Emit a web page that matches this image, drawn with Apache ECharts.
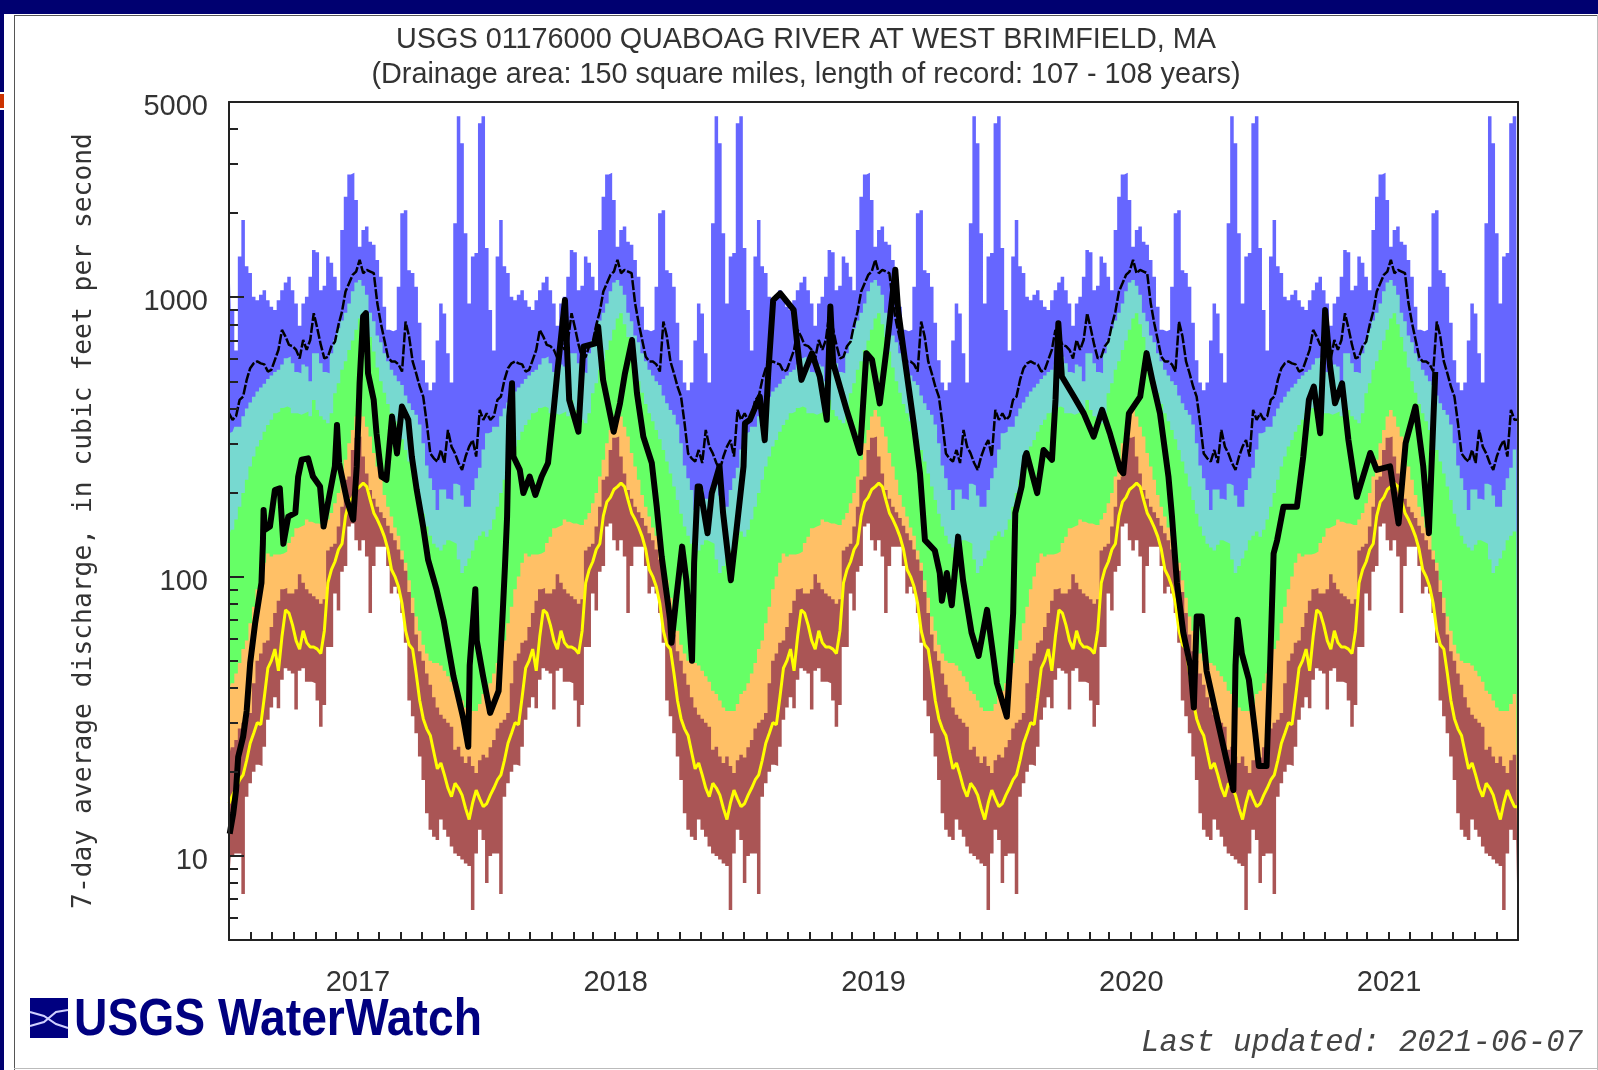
<!DOCTYPE html>
<html><head><meta charset="utf-8">
<style>html,body{margin:0;padding:0;background:#fff}#c{width:1598px;height:1070px}</style>
<script src="https://cdn.jsdelivr.net/npm/echarts@6/dist/echarts.min.js"></script>
</head><body><div id="c"></div>
<script>
// 73 five-day steps through one water year (starts 1 October); the statistics repeat each year.
const maxFlow = [1500,900,645,1400,1890,1290,1220,1005,975,1020,1060,975,925,900,975,1060,1130,1185,1060,950,
 790,950,1005,1185,1475,1450,1060,1100,1400,1330,1185,1060,1740,2290,2750,2790,2230,1515,1740,1790,
 1580,1540,1360,1185,925,765,755,765,1090,2000,2050,1250,1220,1090,810,595,495,465,495,700,
 950,875,630,495,1840,4450,3560,1695,950,1400,1440,4200,4450];
const p90Flow = [326,330,344,344,375,400,420,440,460,475,490,510,525,540,550,575,605,613,580,540,
 534,575,565,500,630,630,580,540,534,630,703,775,825,880,950,1050,1130,1153,1100,1020,
 880,820,730,690,630,590,550,525,500,485,445,417,395,380,350,300,250,225,204,173,
 205,205,190,188,215,212,195,178,178,204,225,245,285];
const p75Flow = [139,147,160,178,199,222,248,269,292,308,330,349,364,384,390,401,406,401,384,384,
 380,384,390,375,429,395,375,364,354,384,453,492,550,590,648,700,765,840,877,800,
 720,640,560,500,455,415,384,360,335,310,284,258,234,210,188,168,151,140,131,127,
 124,130,135,133,131,115,103,109,116,124,135,140,145];
const p25Flow = [39,41.5,45,49,55,59,68,78,90,100,112,121,118,120,120,121,123,132,139,149,
 151,153,160,157,155,155,153,153,160,169,183,199,228,262,300,335,374,395,374,344,
 317,277,248,222,196,178,164,150,140,124,112,97,84,72,64,57,53,50,49,49,
 48,46,44,42,39,38,36,34,33,33,33,35,38];
const p10Flow = [22.5,24.5,26,28.6,30,30.7,32.5,41.5,50,53,58,59,66,74,82,90,91,87,87,90,
 102,95,90,87,85,83,80,83,124,128,131,151,178,222,228,284,314,317,269,234,
 204,190,178,170,162,152,143,135,125,115,105,88,74,62,54,50,45,41,37,34,
 32,31,30,29,24,24.6,22.7,21.5,22.7,21,19.8,22,23];
const minFlow = [8,10,10.2,10.2,7.3,16.3,18.2,20,21.2,21,24.6,30.7,34,37,33.8,42.7,47,46,45,33.4,
 46,47,42,42,41.5,36,29,34.7,56,56,87,75.6,104,109,151,155,135,124,135,118,
 74,109,128,128,128,109,87,92,87,74,58,36,31.6,27.5,22.7,18.7,14.2,12.4,11.7,11.4,
 13.5,12.4,11.7,10.8,10.2,10,9.7,9.4,9.2,6.4,10.2,12.4,11.4];
const yellowFlow = [15.4,16.5,17.5,18.7,19.5,22,25.3,27.5,30,29.5,37,47,50,55,46,61,76,74,67,59,
 55,64,58,56,56,55,53,64,95,106,113,125,131,165,185,192,205,210,216,210,
 188,169,160,150,139,125,106,100,92,80,64,57,55,45,36,31,28.5,27,23.5,20.5,
 21.5,19.5,17.5,16.3,18.2,17.5,16.5,14.8,13.5,15.5,17.2,16,15];
const meanFlow = [384,364,375,429,441,506,557,580,589,580,575,542,550,597,648,764,723,675,668,648,
 604,703,648,703,877,774,675,604,612,668,693,796,889,1048,1122,1202,1236,1361,1219,1253,
 1236,1219,951,807,703,612,589,589,575,542,818,723,589,534,479,441,354,276,265,258,
 284,255,335,292,276,255,241,269,292,308,269,395,364];
// Observed 7-day flow: [days since 2016-10-01, cfs]
const observedFlow = [[1,12],[6,14.2],[10,17.2],[13,22.6],[20,26.7],[25,33],[30,49],[37,68],[46,95],[48,131],
 [49,173],[51,147],[58,151],[65,204],[72,207],[77,131],[84,164],[94,169],[98,228],[103,262],
 [112,265],[119,228],[129,210],[134,151],[141,188],[150,248],[153,349],[156,255],[167,188],[176,160],
 [181,248],[185,492],[190,853],[194,877],[197,534],[205,429],[209,326],[216,228],[223,222],[231,374],
 [238,276],[245,406],[254,364],[259,269],[266,204],[275,151],[282,115],[294,90],[304,70],[318,44],
 [332,31],[339,24.6],[341,48],[349,90],[351,59],[360,44],[370,32.5],[382,39],[388,76],[391,109],
 [394,164],[397,374],[401,492],[403,269],[412,241],[417,199],[426,228],[434,196],[443,228],[452,255],
 [460,395],[465,534],[476,977],[482,429],[495,330],[502,665],[519,684],[523,785],[530,506],[545,330],
 [554,417],[561,534],[571,703],[578,453],[587,317],[599,255],[606,178],[613,118],[625,70],[627,58],
 [634,85],[642,128],[648,97],[656,50],[659,112],[664,210],[667,210],[678,143],[684,199],[695,248],
 [700,169],[711,97],[719,147],[729,248],[731,354],[738,364],[752,441],[759,308],[764,534],[771,977],
 [781,1033],[800,901],[807,613],[811,506],[826,630],[837,520],[847,364],[852,926],[856,580],[875,395],
 [894,277],[903,630],[911,597],[922,417],[932,665],[944,1255],[948,901],[955,665],[970,354],[979,234],
 [986,135],[1000,124],[1007,103],[1010,82],[1017,103],[1024,79],[1033,139],[1040,97],[1052,63],[1062,52],
 [1074,76],[1088,41.5],[1102,31.5],[1111,74],[1114,169],[1123,210],[1128,269],[1130,277],[1145,199],[1154,284],
 [1166,262],[1171,429],[1175,807],[1180,520],[1197,441],[1211,384],[1225,317],[1237,395],[1248,326],[1263,241],
 [1267,234],[1275,384],[1291,441],[1300,631],[1308,506],[1319,384],[1331,228],[1336,164],[1343,95],[1352,63],
 [1362,48],[1367,34],[1371,72],[1378,72],[1385,46],[1400,31],[1412,22.7],[1423,17.2],[1426,48],[1429,70],
 [1435,53],[1445,42.7],[1454,27.5],[1459,21],[1470,21],[1475,48],[1480,121],[1485,135],[1494,178],[1513,178],
 [1522,269],[1530,429],[1537,479],[1546,326],[1553,901],[1560,565],[1567,417],[1577,492],[1586,308],[1598,193],
 [1617,277],[1626,241],[1645,248],[1657,155],[1667,300],[1681,406],[1692,248],[1700,143],[1709,540]];
const yearLabels = ['2017','2018','2019','2020','2021'];
const monthLengths = [31,30,31,31,28,31,30,31,30,31,31,30];
const yMinorTicks = [5,6,7,8,9,20,30,40,50,60,70,80,90,200,300,400,500,600,700,800,900,2000,3000,4000];
const yDecadeTicks = [10,100,1000];
const yLabels = [10,100,1000,5000];

const YEAR = 365.25;
const monthTicks = [];
for (let y = 0; y < 5; y++) { let d = 0; for (const m of monthLengths) { d += m; monthTicks.push(Math.round(y * YEAR + d)); } }
const yearCentres = yearLabels.map((_, i) => (i + 0.5) * YEAR);

function repeated(values) {
  const out = [];
  for (let y = 0; y < 5; y++) values.forEach((v, i) => out.push([y * YEAR + i * YEAR / values.length, v]));
  out.push([5 * YEAR, values[values.length - 1]]);
  return out;
}
function band(name, values, color) {
  return { name, type: 'line', data: repeated(values), step: 'middle', symbol: 'none', silent: true,
    lineStyle: { width: 0 }, areaStyle: { color, opacity: 1, origin: 'start' }, clip: true };
}
const plainY = { type: 'log', min: 5, max: 5000, logBase: 10, splitLine: { show: false }, minorTick:{show:false}, minorSplitLine:{show:false}, z: 10 };
const chart = echarts.init(document.getElementById('c'), null, { renderer: 'canvas' });
chart.setOption({
  animation: false,
  backgroundColor: '#ffffff',
  title: { text: 'USGS 01176000 QUABOAG RIVER AT WEST BRIMFIELD, MA\n(Drainage area: 150 square miles, length of record: 107 - 108 years)',
    left: 801, top: 18, textAlign: 'center',
    textStyle: { fontFamily: 'Liberation Sans', fontWeight: 'normal', fontSize: 28.8, lineHeight: 34.7, color: '#333' } },
  grid: { left: 229, right: 80, top: 102, bottom: 130, containLabel: false },
  xAxis: [
    { type: 'value', min: 0, max: 5 * YEAR, position: 'bottom', z: 10, splitLine: { show: false },
      axisLine: { show: true, onZero: false, lineStyle: { color: '#222', width: 2 } },
      axisTick: { show: true, inside: true, length: 8, customValues: monthTicks, lineStyle: { color: '#222', width: 2 } },
      axisLabel: { show: true, customValues: yearCentres, margin: 28, fontFamily: 'Liberation Sans', fontSize: 29, color: '#333',
        formatter: v => { let k = 0; yearCentres.forEach((c, i) => { if (Math.abs(c - v) < 5) k = i; }); return yearLabels[k]; } } },
    { type: 'value', min: 0, max: 5 * YEAR, position: 'top', z: 10, splitLine: { show: false },
      axisLine: { show: true, onZero: false, lineStyle: { color: '#222', width: 2 } }, axisTick: { show: false }, axisLabel: { show: false } }
  ],
  yAxis: [
    Object.assign({}, plainY, { position: 'left', name: '7-day average discharge, in cubic feet per second', nameLocation: 'middle', nameRotate: 90, nameGap: 132,
      nameTextStyle: { fontFamily: 'DejaVu Sans Mono', fontSize: 26.3, color: '#333' },
      axisLine: { show: true, onZero: false, lineStyle: { color: '#222', width: 2 } },
      axisTick: { show: true, inside: true, length: 9, customValues: yMinorTicks, lineStyle: { color: '#222', width: 2 } },
      axisLabel: { show: true, customValues: yLabels, margin: 21, verticalAlign: 'top', lineHeight: 10, fontFamily: 'Liberation Sans', fontSize: 29, color: '#333', formatter: v => String(Math.round(v)) } }),
    Object.assign({}, plainY, { position: 'right',
      axisLine: { show: true, onZero: false, lineStyle: { color: '#222', width: 2 } }, axisTick: { show: false }, axisLabel: { show: false } }),
    Object.assign({}, plainY, { position: 'left',
      axisLine: { show: false }, axisTick: { show: true, inside: true, length: 15, customValues: yDecadeTicks, lineStyle: { color: '#222', width: 2 } }, axisLabel: { show: false } })
  ],
  series: [
    band('Maximum', maxFlow, '#6666ff'),
    band('90th percentile', p90Flow, '#77d9d0'),
    band('75th percentile', p75Flow, '#66ff66'),
    band('25th percentile', p25Flow, '#ffc066'),
    band('10th percentile', p10Flow, '#aa5555'),
    band('Minimum', minFlow, '#ffffff'),
    { name: 'Mean', type: 'line', data: repeated(meanFlow), symbol: 'none', lineStyle: { color: '#000', width: 2.5, type: [10, 2] } },
    { name: 'Lower', type: 'line', data: repeated(yellowFlow), symbol: 'none', lineStyle: { color: '#ffff00', width: 3 } },
    { name: 'Observed', type: 'line', data: observedFlow, symbol: 'none', lineStyle: { color: '#000', width: 6, join: 'round' } }
  ],
  graphic: [
    { type: 'rect', z: 100, shape: { x: 0, y: 0, width: 1598, height: 14 }, style: { fill: '#000070' } },
    { type: 'rect', z: 100, shape: { x: 0, y: 0, width: 4, height: 92 }, style: { fill: '#000070' } },
    { type: 'rect', z: 100, shape: { x: 0, y: 94, width: 4, height: 14 }, style: { fill: '#cc3300' } },
    { type: 'rect', z: 100, shape: { x: 0, y: 110, width: 4, height: 960 }, style: { fill: '#000070' } },
    { type: 'rect', z: 100, shape: { x: 14, y: 15, width: 1, height: 1055 }, style: { fill: '#555' } },
    { type: 'rect', z: 100, shape: { x: 14, y: 15, width: 1584, height: 1 }, style: { fill: '#555' } },
    { type: 'rect', z: 100, shape: { x: 14, y: 1068, width: 1584, height: 1 }, style: { fill: '#bbb' } },
    { type: 'rect', z: 100, shape: { x: 1597, y: 15, width: 1, height: 1055 }, style: { fill: '#bbb' } },
    { type: 'rect', z: 100, shape: { x: 30, y: 998, width: 38, height: 40 }, style: { fill: '#000080' } },
    { type: 'polyline', z: 101, shape: { points: [[30,1012],[44,1016],[56,1024],[68,1028]] }, style: { stroke: '#d0d0ff', lineWidth: 2, fill: null } },
    { type: 'polyline', z: 101, shape: { points: [[30,1026],[44,1022],[56,1012],[68,1010]] }, style: { stroke: '#d0d0ff', lineWidth: 2, fill: null } },
    { type: 'text', z: 101, x: 74, y: 1021, scaleX: 0.89, style: { text: 'USGS WaterWatch', x: 0, y: 0, verticalAlign: 'middle', font: 'bold 52px "Liberation Sans"', fill: '#000080' } },
    { type: 'text', z: 101, style: { text: 'Last updated: 2021-06-07', x: 1141, y: 1043, verticalAlign: 'middle', font: 'italic 30.7px "Liberation Mono"', fill: '#444' } }
  ]
});
</script></body></html>
